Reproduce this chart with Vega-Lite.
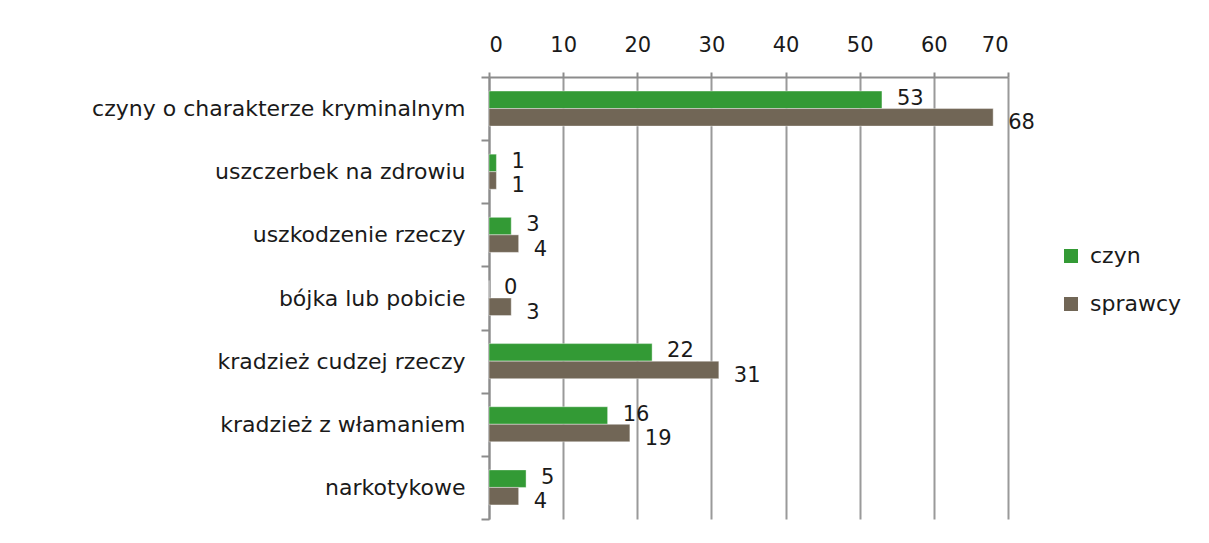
{
  "$schema": "https://vega.github.io/schema/vega-lite/v6.json",
  "autosize": {"type": "none"},
  "padding": {"left": 489, "top": 77, "right": 201, "bottom": 24},
  "width": 519,
  "height": 442,
  "background": "white",
  "config": {
    "font": "DejaVu Sans",
    "view": {"stroke": null}
  },
  "data": {
    "values": [
      {"kat": "czyny o charakterze kryminalnym", "seria": "czyn", "v": 53},
      {"kat": "czyny o charakterze kryminalnym", "seria": "sprawcy", "v": 68},
      {"kat": "uszczerbek na zdrowiu", "seria": "czyn", "v": 1},
      {"kat": "uszczerbek na zdrowiu", "seria": "sprawcy", "v": 1},
      {"kat": "uszkodzenie rzeczy", "seria": "czyn", "v": 3},
      {"kat": "uszkodzenie rzeczy", "seria": "sprawcy", "v": 4},
      {"kat": "bójka lub pobicie", "seria": "czyn", "v": 0},
      {"kat": "bójka lub pobicie", "seria": "sprawcy", "v": 3},
      {"kat": "kradzież cudzej rzeczy", "seria": "czyn", "v": 22},
      {"kat": "kradzież cudzej rzeczy", "seria": "sprawcy", "v": 31},
      {"kat": "kradzież z włamaniem", "seria": "czyn", "v": 16},
      {"kat": "kradzież z włamaniem", "seria": "sprawcy", "v": 19},
      {"kat": "narkotykowe", "seria": "czyn", "v": 5},
      {"kat": "narkotykowe", "seria": "sprawcy", "v": 4}
    ]
  },
  "encoding": {
    "y": {
      "field": "kat", "type": "nominal", "sort": null,
      "scale": {"padding": 0},
      "axis": {
        "title": null, "domainColor": "#8c8c8c", "domainWidth": 2,
        "tickColor": "#8c8c8c", "tickWidth": 2, "tickSize": 8, "tickBand": "extent",
        "labelFontSize": 22, "labelColor": "#1a1a1a", "labelPadding": 16, "labelLimit": 480
      }
    },
    "yOffset": {
      "field": "seria", "type": "nominal",
      "scale": {"domain": ["czyn", "sprawcy"], "paddingOuter": 0.8, "paddingInner": 0}
    },
    "x": {
      "field": "v", "type": "quantitative",
      "scale": {"domain": [0, 70], "nice": false},
      "axis": {
        "orient": "top", "title": null, "values": [0, 10, 20, 30, 40, 50, 60, 70],
        "domainColor": "#8c8c8c", "domainWidth": 2,
        "tickColor": "#8c8c8c", "tickWidth": 2, "tickSize": 5,
        "grid": true, "gridColor": "#9a9a9a", "gridWidth": 2,
        "labelFontSize": 21, "labelColor": "#1a1a1a", "labelPadding": 17
      }
    }
  },
  "layer": [
    {
      "mark": {"type": "bar", "stroke": "#ffffff", "strokeOpacity": 0.4, "strokeWidth": 1},
      "encoding": {
        "color": {
          "field": "seria", "type": "nominal",
          "scale": {"domain": ["czyn", "sprawcy"], "range": ["#339a35", "#716656"]},
          "legend": {
            "title": null, "orient": "none", "legendX": 571, "legendY": 168,
            "symbolType": "square", "symbolSize": 196, "symbolStrokeWidth": 0,
            "labelFontSize": 22, "labelColor": "#1a1a1a", "rowPadding": 26, "labelOffset": 8
          }
        }
      }
    },
    {
      "transform": [{"filter": "datum.seria === 'czyn'"}],
      "mark": {"type": "text", "align": "left", "baseline": "middle", "dx": 15, "dy": -1, "fontSize": 21, "color": "#1a1a1a"},
      "encoding": {"text": {"field": "v", "type": "quantitative"}}
    },
    {
      "transform": [{"filter": "datum.seria === 'sprawcy'"}],
      "mark": {"type": "text", "align": "left", "baseline": "middle", "dx": 15, "dy": 6, "fontSize": 21, "color": "#1a1a1a"},
      "encoding": {"text": {"field": "v", "type": "quantitative"}}
    }
  ]
}
